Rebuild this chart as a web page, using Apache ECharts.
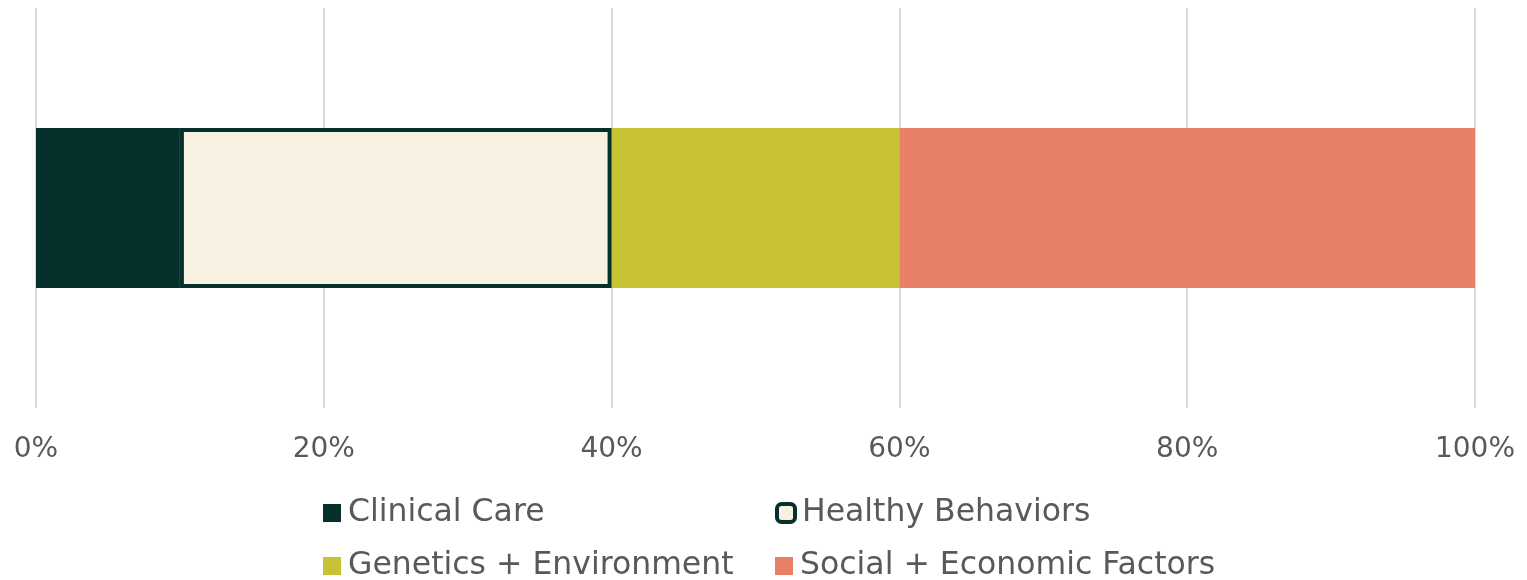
<!DOCTYPE html>
<html>
<head>
<meta charset="utf-8">
<style>
  html, body { margin: 0; padding: 0; background: #ffffff; }
  #chart { width: 1527px; height: 580px; }
</style>
<script src="https://cdn.jsdelivr.net/npm/echarts@6/dist/echarts.min.js"></script>
</head>
<body>
<div id="chart"></div>
<script>
// Share of health outcomes explained by each factor group (percent)
const categories = ['Health Factors'];
const seriesNames = ['Clinical Care', 'Healthy Behaviors', 'Genetics + Environment', 'Social + Economic Factors'];
const clinicalCare = [10];
const healthyBehaviors = [30];
const geneticsEnvironment = [20];
const socialEconomic = [40];
const axisTicks = [0, 20, 40, 60, 80, 100];

const dark = '#06302c';
const textColor = '#595959';
const fontFamily = '"DejaVu Sans", "Noto Sans", sans-serif';

const chart = echarts.init(document.getElementById('chart'), null, { renderer: 'canvas' });

// One legend block per entry so the entries line up in two columns
function legendEntry(name, left, top, icon, itemStyle) {
  const entry = { name: name, icon: icon };
  if (itemStyle) entry.itemStyle = itemStyle;
  return {
    data: [entry],
    left: left,
    top: top,
    padding: 0,
    itemWidth: 18,
    itemHeight: 18,
    selectedMode: false,
    textStyle: { color: textColor, fontSize: 31.5, fontFamily: fontFamily, lineHeight: 34, padding: [0, 0, 0, 2] }
  };
}

chart.setOption({
  animation: false,
  backgroundColor: '#ffffff',
  grid: { left: 36, right: 52, top: 8, bottom: 172, containLabel: false },
  xAxis: {
    type: 'value',
    min: axisTicks[0],
    max: axisTicks[axisTicks.length - 1],
    interval: axisTicks[1] - axisTicks[0],
    axisLine: { show: false },
    axisTick: { show: false },
    splitLine: { show: true, lineStyle: { color: '#d9d9d9', width: 2 } },
    axisLabel: {
      formatter: '{value}%',
      color: textColor,
      fontSize: 28,
      fontFamily: fontFamily,
      margin: 28
    }
  },
  yAxis: {
    type: 'category',
    data: categories,
    show: false
  },
  legend: [
    legendEntry(seriesNames[0], 323, 496, 'rect'),
    legendEntry(seriesNames[1], 775, 496, 'roundRect', { borderColor: dark, borderWidth: 4 }),
    legendEntry(seriesNames[2], 323, 549, 'rect'),
    legendEntry(seriesNames[3], 775, 549, 'rect')
  ],
  series: [
    {
      name: seriesNames[0],
      type: 'bar',
      stack: 'total',
      barWidth: 160,
      data: clinicalCare,
      itemStyle: { color: dark }
    },
    {
      name: seriesNames[1],
      type: 'bar',
      stack: 'total',
      barWidth: 160,
      z: 4,
      data: healthyBehaviors,
      itemStyle: { color: '#f7f1e1', borderColor: dark, borderWidth: 4 }
    },
    {
      name: seriesNames[2],
      type: 'bar',
      stack: 'total',
      barWidth: 160,
      data: geneticsEnvironment,
      itemStyle: { color: '#c6c233' }
    },
    {
      name: seriesNames[3],
      type: 'bar',
      stack: 'total',
      barWidth: 160,
      data: socialEconomic,
      itemStyle: { color: '#e88068' }
    }
  ]
});
</script>
</body>
</html>
